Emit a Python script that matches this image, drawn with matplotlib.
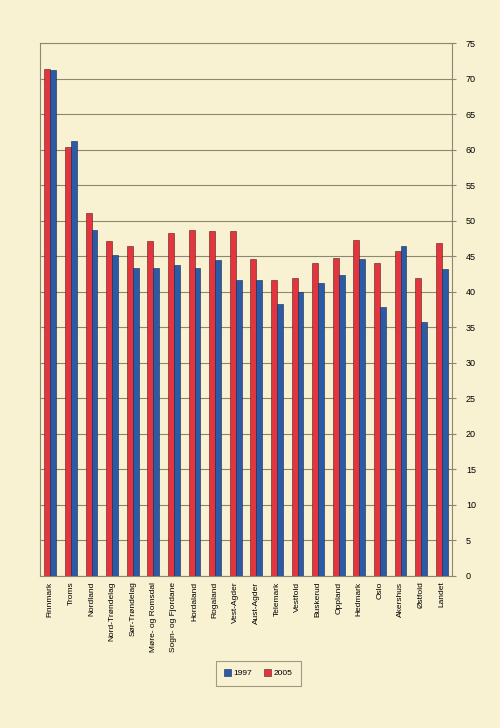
import numpy as np
import matplotlib
matplotlib.use('Agg')
import matplotlib.pyplot as plt

plt.rcParams['font.family'] = ['Liberation Sans', 'DejaVu Sans']

counties = ['Finnmark', 'Troms', 'Nordland', 'Nord-Trøndelag', 'Sør-Trøndelag',
            'Møre- og Romsdal', 'Sogn- og Fjordane', 'Hordaland', 'Rogaland',
            'Vest-Agder', 'Aust-Agder', 'Telemark', 'Vestfold', 'Buskerud',
            'Oppland', 'Hedmark', 'Oslo', 'Akershus', 'Østfold', 'Landet']
v1997 = [71.2, 61.2, 48.7, 45.2, 43.4, 43.4, 43.8, 43.4, 44.4, 41.6,
         41.7, 38.3, 40.0, 41.3, 42.3, 44.6, 37.8, 46.5, 35.8, 43.2]
v2005 = [71.3, 60.4, 51.1, 47.2, 46.5, 47.2, 48.2, 48.7, 48.5, 48.6,
         44.6, 41.6, 41.9, 44.1, 44.8, 47.3, 44.1, 45.8, 41.9, 46.8]

bg = '#f8f1d2'
red = '#e2353d'
blue = '#2c5aa6'
grid = '#8c8672'

fig = plt.figure(figsize=(5, 7.28), dpi=100, facecolor=bg)
ax = fig.add_axes([0.08, 0.2088, 0.824, 0.7321], facecolor=bg)

x = np.arange(len(counties))
w = 0.29
ax.bar(x - w / 2, v2005, w, color=red, edgecolor='#5a1a1a', linewidth=0.4, label='2005', zorder=3)
ax.bar(x + w / 2, v1997, w, color=blue, edgecolor='#14264a', linewidth=0.4, label='1997', zorder=3)

ax.set_xlim(-0.5, len(counties) - 0.5)
ax.set_ylim(0, 75)
ax.set_yticks(range(0, 80, 5))
ax.yaxis.tick_right()
ax.tick_params(axis='y', labelsize=6.5, length=3, color=grid, pad=7)
ax.set_xticks(x)
ax.set_xticklabels(counties, rotation=90, fontsize=6)
ax.tick_params(axis='x', length=0, pad=4)
ax.grid(axis='y', color=grid, linewidth=0.8, zorder=0)
for s in ax.spines.values():
    s.set_color(grid)
    s.set_linewidth(0.8)

h, l = ax.get_legend_handles_labels()
leg = fig.legend(h[::-1], l[::-1], loc='center', bbox_to_anchor=(0.516, 0.075),
                 ncol=2, fontsize=6, frameon=True, fancybox=False,
                 handlelength=0.8, handleheight=0.8, handletextpad=0.3,
                 columnspacing=1.5, borderpad=1.0)
leg.get_frame().set_edgecolor('#8a8470')
leg.get_frame().set_facecolor(bg)
leg.get_frame().set_linewidth(0.8)

fig.savefig('out.png', dpi=100, facecolor=bg)
